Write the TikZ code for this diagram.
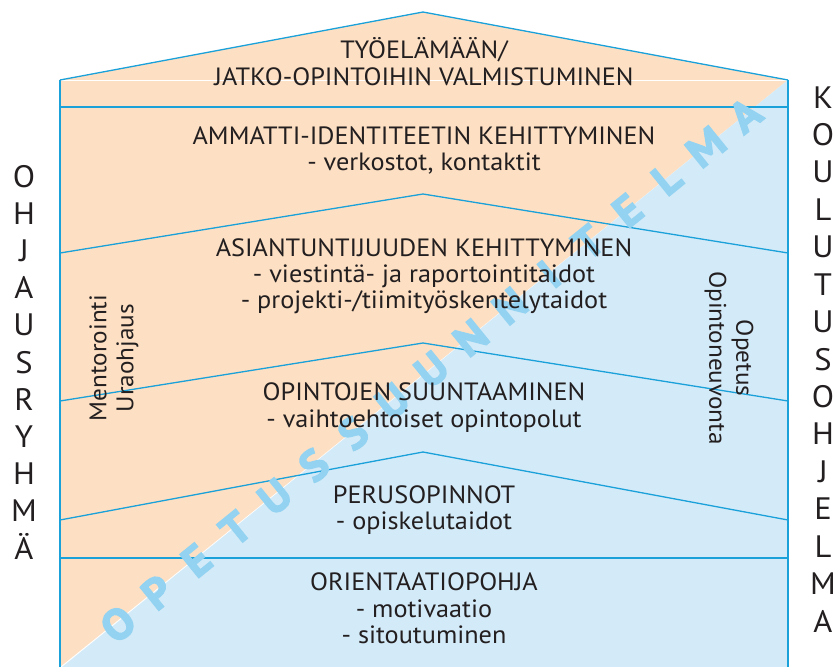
\documentclass[tikz,border=0pt]{standalone}
\usepackage{fontspec}
\setmainfont[FakeStretch=1.05]{PT Sans}
\definecolor{peach}{HTML}{FDE0C3}
\definecolor{skyfill}{HTML}{D3EAF8}
\definecolor{lineblue}{HTML}{1BA1DA}
\definecolor{wmark}{HTML}{93D3F1}
\definecolor{ink}{HTML}{231F20}
\begin{document}
\begin{tikzpicture}[x=1pt,y=-1pt,
  ln/.style={anchor=base, inner sep=0pt, text=ink, font=\fontsize{25}{27}\selectfont},
  side/.style={anchor=base, inner sep=0pt, text=ink, font=\fontsize{31}{31}\selectfont},
  wm/.style={inner sep=0pt, text=wmark, font=\bfseries\fontsize{43}{43}\selectfont\addfontfeature{FakeBold=3}, rotate=39},
  band/.style={draw=lineblue, line width=1.3pt},
  rot/.style={align=center, inner sep=0pt, text=ink, font=\fontsize{24}{27}\selectfont}
]
\useasboundingbox (0,0) rectangle (836,667);
% fills
\fill[peach] (60,667) -- (60,80) -- (423,12) -- (788,80) -- cycle;
\fill[skyfill] (788,80) -- (788,667) -- (62,667) -- cycle;
% lines
\draw[white, line width=1pt] (60,80) -- (788,80);
\draw[band] (60,80) -- (423,12) -- (788,80);
\draw[draw=lineblue, line width=2pt] (60,107) -- (788,107);
\draw[band] (60,253) -- (423,194) -- (788,253);
\draw[band] (60,401) -- (423,343) -- (788,401);
\draw[band] (60,520) -- (423,452) -- (788,520);
\draw[draw=lineblue, line width=1.5pt] (60,558) -- (788,558);
\draw[draw=lineblue, line width=2pt] (60,80) -- (60,667);
\draw[draw=lineblue, line width=2pt] (788,80) -- (788,667);
% watermark
\foreach \l [count=\i from 0] in {O,P,E,T,U,S,S,U,U,N,N,I,T,E,L,M,A}
  \node[wm] (w\i) at ({118+39.19*\i},{624-31.81*\i}) {\l};
% texts
\node[ln] (t1a) at (424,58) {TYÖELÄMÄÄN/};
\node[ln] (t1b) at (424,85) {JATKO-OPINTOIHIN VALMISTUMINEN};
\node[ln] (t2a) at (424,144) {AMMATTI-IDENTITEETIN KEHITTYMINEN};
\node[ln] (t2b) at (424,170) {- verkostot, kontaktit};
\node[ln] (t3a) at (424,256) {ASIANTUNTIJUUDEN KEHITTYMINEN};
\node[ln] (t3b) at (424,282) {- viestintä- ja raportointitaidot};
\node[ln] (t3c) at (424,308) {- projekti-/tiimityöskentelytaidot};
\node[ln] (t4a) at (424,400) {OPINTOJEN SUUNTAAMINEN};
\node[ln] (t4b) at (424,427) {- vaihtoehtoiset opintopolut};
\node[ln] (t5a) at (424,503) {PERUSOPINNOT};
\node[ln] (t5b) at (424,529) {- opiskelutaidot};
\node[ln] (t6a) at (424,590) {ORIENTAATIOPOHJA};
\node[ln] (t6b) at (424,617) {- motivaatio};
\node[ln] (t6c) at (424,643) {- sitoutuminen};
% rotated labels
\node[rot, rotate=90] (men) at (114,358) {Mentorointi\\Uraohjaus};
\node[rot, rotate=-90] (ope) at (729,358) {Opetus\\Opintoneuvonta};
% side letters
\foreach \l [count=\i from 0] in {O,H,J,A,U,S,R,Y,H,M,Ä}
  \node[side] (L\i) at (24,{187+37.2*\i}) {\l};
\foreach \l [count=\i from 0] in {K,O,U,L,U,T,U,S,O,H,J,E,L,M,A}
  \node[side] (R\i) at (823,{108+37.43*\i}) {\l};
\end{tikzpicture}
\end{document}
